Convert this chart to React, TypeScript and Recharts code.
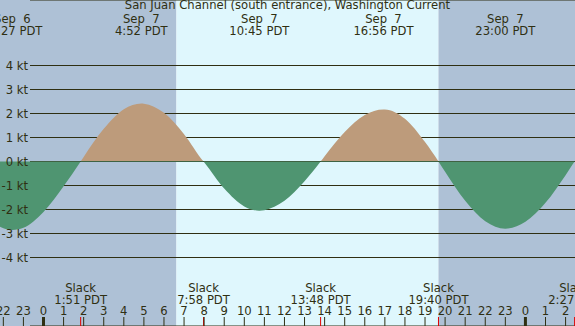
import {
  ComposedChart,
  Area,
  XAxis,
  YAxis,
  CartesianGrid,
  ReferenceArea,
  ReferenceLine,
} from 'recharts';

// hours from midnight Sep 7 (PDT), current in knots (+ flood, - ebb)
const hours = [
  -3, -2, -1.55, -1, 0, 1, 1.85, 2, 3, 4, 4.87, 5, 6, 7, 7.97, 8, 9, 10, 10.75,
  11, 12, 13, 13.8, 14, 15, 16, 16.93, 17, 18, 19, 19.67, 20, 21, 22, 23, 24,
  25, 26, 26.45, 27,
];
const knots = [
  -2.11, -2.78, -2.85, -2.76, -2.1, -1.03, 0, 0.19, 1.36, 2.18, 2.42, 2.41,
  2.03, 1.14, 0, -0.03, -1.13, -1.87, -2.05, -2.03, -1.64, -0.82, 0, 0.22, 1.23,
  1.94, 2.17, 2.17, 1.78, 0.81, 0, -0.43, -1.64, -2.49, -2.8, -2.51, -1.72,
  -0.57, 0, 0.6,
];

const maxTimes = [-1.55, 4.87, 10.75, 16.93, 23.0];
const maxDates = ['Sep  6', 'Sep  7', 'Sep  7', 'Sep  7', 'Sep  7'];
const maxLabels = ['22:27 PDT', '4:52 PDT', '10:45 PDT', '16:56 PDT', '23:00 PDT'];

const slackTimes = [1.85, 7.97, 13.8, 19.67, 26.45];
const slackLabels = ['1:51 PDT', '7:58 PDT', '13:48 PDT', '19:40 PDT', '2:27 PDT'];

const sunrise = 6.62;
const sunset = 19.67;

const hourTicks = [-2, -1, 0, 1, 2, 3, 4, 5, 6, 7, 8, 9, 10, 11, 12, 13, 14, 15, 16, 17, 18, 19, 20, 21, 22, 23, 24, 25, 26];
const ktTicks = [-4, -3, -2, -1, 0, 1, 2, 3, 4];

const data = hours.map((h, i) => ({ h, kt: knots[i] }));

const W = 575;
const H = 326;
const X0 = 43.5;
const PXH = 20.08;
const X_MIN = -X0 / PXH;
const X_MAX = (W - X0) / PXH;
const Y0 = 161.5;
const Y_MAX = Y0 / 24;
const Y_MIN = -(H - Y0) / 24;
const zeroOff = Y0 / H;

const INK = '#2f2f12';
const FONT = '"DejaVu Sans", sans-serif';
const FS = 11.6;
const NIGHT = '#aec1d6';
const DAY = '#dff7fd';
const FLOOD = '#bd9b7b';
const EBB = '#4f9571';

function HourTick(props: any) {
  const { x, payload } = props;
  const v = payload.value;
  const label = ((v % 24) + 24) % 24;
  const midnight = label === 0;
  return (
    <g>
      <text x={x} y={315} textAnchor="middle" fill={INK} fontSize={FS} fontFamily={FONT}>
        {label}
      </text>
      <line x1={x} x2={x} y1={317} y2={H} stroke={INK} strokeWidth={midnight ? 3 : 1} />
    </g>
  );
}

function KtTick(props: any) {
  const { y, payload } = props;
  return (
    <text x={28} y={y} dy="0.35em" textAnchor="end" fill={INK} fontSize={FS} fontFamily={FONT}>
      {`${payload.value} kt`}
    </text>
  );
}

function TopLabel(props: any) {
  const { viewBox, line1, line2 } = props;
  const x = viewBox.x;
  return (
    <g>
      <text x={x} y={23} textAnchor="middle" fill={INK} fontSize={FS} fontFamily={FONT} style={{ whiteSpace: 'pre' }}>
        {line1}
      </text>
      <text x={x} y={35} textAnchor="middle" fill={INK} fontSize={FS} fontFamily={FONT}>
        {line2}
      </text>
    </g>
  );
}

function SlackLabel(props: any) {
  const { viewBox, line2 } = props;
  const x = viewBox.x;
  return (
    <g>
      <text x={x} y={292} textAnchor="middle" fill={INK} fontSize={FS} fontFamily={FONT}>
        Slack
      </text>
      <text x={x} y={304} textAnchor="middle" fill={INK} fontSize={FS} fontFamily={FONT}>
        {line2}
      </text>
    </g>
  );
}

export default function App() {
  return (
    <div style={{ position: 'absolute', left: 0, top: 0, width: W, height: H }}>
      <ComposedChart width={W} height={H} data={data} margin={{ top: 0, right: 0, bottom: -1, left: -1 }}>
        <defs>
          <linearGradient id="floodEbb" gradientUnits="userSpaceOnUse" x1={0} y1={0} x2={0} y2={H}>
            <stop offset={0} stopColor={FLOOD} />
            <stop offset={zeroOff} stopColor={FLOOD} />
            <stop offset={zeroOff} stopColor={EBB} />
            <stop offset={1} stopColor={EBB} />
          </linearGradient>
        </defs>
        <ReferenceArea x1={X_MIN} x2={sunrise} fill={NIGHT} fillOpacity={1} stroke="none" zIndex={-300} />
        <ReferenceArea x1={sunrise} x2={sunset} fill={DAY} fillOpacity={1} stroke="none" zIndex={-300} />
        <ReferenceArea x1={sunset} x2={X_MAX} fill={NIGHT} fillOpacity={1} stroke="none" zIndex={-300} />
        <CartesianGrid x={30} width={W - 30} vertical={false} stroke={INK} strokeOpacity={1} zIndex={-200} />
        <Area
          type="monotone"
          dataKey="kt"
          baseValue={0}
          stroke="none"
          fill="url(#floodEbb)"
          fillOpacity={1}
          isAnimationActive={false}
          dot={false}
          activeDot={false}
          zIndex={100}
        />
        <XAxis
          dataKey="h"
          type="number"
          domain={[X_MIN, X_MAX]}
          allowDataOverflow
          ticks={hourTicks}
          interval={0}
          height={1}
          axisLine={false}
          tickLine={false}
          tick={<HourTick />}
        />
        <YAxis
          type="number"
          domain={[Y_MIN, Y_MAX]}
          allowDataOverflow
          ticks={ktTicks}
          interval={0}
          width={1}
          axisLine={false}
          tickLine={false}
          tick={<KtTick />}
        />
        {maxTimes.map((t, i) => (
          <ReferenceLine
            key={`m${i}`}
            x={t}
            stroke="none"
            label={<TopLabel line1={maxDates[i]} line2={maxLabels[i]} />}
          />
        ))}
        {slackTimes.map((t, i) => (
          <ReferenceLine
            key={`s${i}`}
            segment={[{ x: t, y: Y_MIN + 9 / 24 }, { x: t, y: Y_MIN }]}
            stroke="#e00000"
            label={<SlackLabel line2={slackLabels[i]} />}
          />
        ))}
      </ComposedChart>
      <div
        style={{
          position: 'absolute',
          left: 0,
          top: -2,
          width: W,
          textAlign: 'center',
          fontFamily: FONT,
          fontSize: FS,
          color: INK,
          lineHeight: '14px',
          pointerEvents: 'none',
        }}
      >
        San Juan Channel (south entrance), Washington Current
      </div>
    </div>
  );
}
